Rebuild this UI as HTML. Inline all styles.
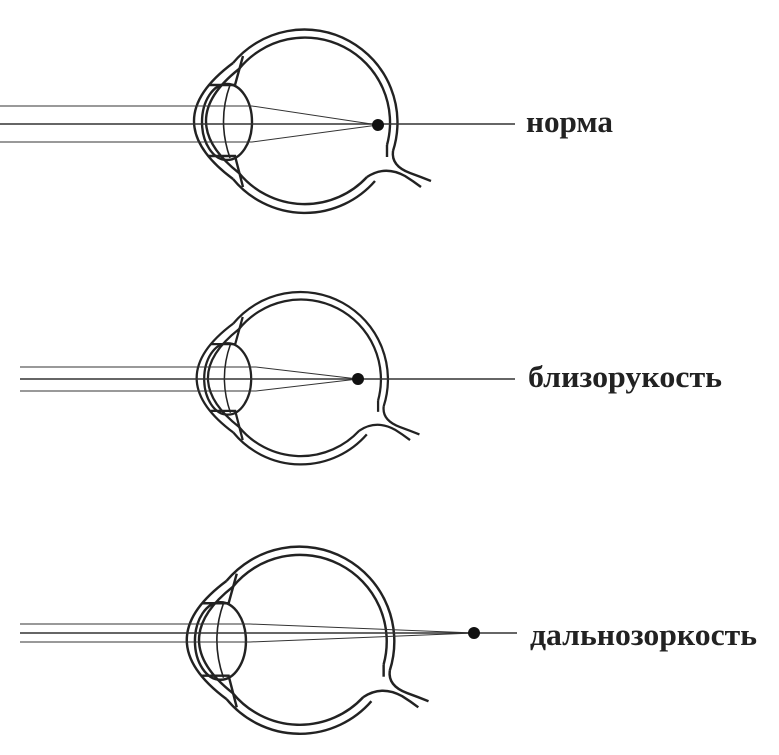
<!DOCTYPE html>
<html><head><meta charset="utf-8"><style>
html,body{margin:0;padding:0;background:#fff;}
svg{display:block}
text{font-family:"Liberation Serif",serif;font-weight:bold;font-size:31px;fill:#222}
</style></head><body>
<svg width="779" height="755" viewBox="0 0 779 755" xmlns="http://www.w3.org/2000/svg">
<defs>
<g id="eye" fill="none" stroke="#222" stroke-width="2.4">
  <path d="M -72 -58 A 93 93 0 0 1 88 30"/>
  <path d="M 70 60 A 93 93 0 0 1 -72 58"/>
  <path d="M -66 -52 A 85 85 0 0 1 82 24"/>
  <path d="M 62 56 A 85 85 0 0 1 -66 52"/>
  <path d="M 88 30 Q 86 45 105 52 Q 116 56 126 60"/>
  <path d="M 62 56 Q 80 44 100 55 Q 108 60 116 66"/>
  <path d="M 82 24 L 82 36" />
  <path d="M -72 -58 Q -150 0 -72 58"/>
  <path d="M -66 -52 Q -132 0 -66 52"/>
  <ellipse cx="-78" cy="1" rx="25" ry="38"/>
  <path d="M -75 -36 Q -88 0 -75 37" stroke-width="1.6"/>
  <path d="M -96 -36 L -70 -36 L -62 -65"/>
  <path d="M -96 35 L -70 35 L -62 66"/>
</g>
</defs>
<use href="#eye" transform="translate(305,121)"/>
<use href="#eye" transform="translate(301,378) scale(0.94)"/>
<use href="#eye" transform="translate(300,640) scale(1.02)"/>
<g stroke="#333" stroke-width="1" fill="none">
  <line x1="0" y1="106" x2="252" y2="106"/><line x1="252" y1="106" x2="378" y2="125"/>
  <line x1="0" y1="142" x2="252" y2="142"/><line x1="252" y1="142" x2="378" y2="125"/>
  <line x1="0" y1="124" x2="515" y2="124" stroke-width="1.4"/>
  <line x1="20" y1="367" x2="256" y2="367"/><line x1="256" y1="367" x2="358" y2="379"/>
  <line x1="20" y1="391" x2="256" y2="391"/><line x1="256" y1="391" x2="358" y2="379"/>
  <line x1="20" y1="379" x2="515" y2="379" stroke-width="1.4"/>
  <line x1="20" y1="624" x2="250" y2="624"/><line x1="250" y1="624" x2="474" y2="633"/>
  <line x1="20" y1="642" x2="250" y2="642"/><line x1="250" y1="642" x2="474" y2="633"/>
  <line x1="20" y1="633" x2="517" y2="633" stroke-width="1.4"/>
</g>
<circle cx="378" cy="125" r="6" fill="#111"/>
<circle cx="358" cy="379" r="6" fill="#111"/>
<circle cx="474" cy="633" r="6" fill="#111"/>
<text x="526" y="132" textLength="87" lengthAdjust="spacingAndGlyphs">норма</text>
<text x="528" y="387" textLength="194" lengthAdjust="spacingAndGlyphs">близорукость</text>
<text x="530" y="645" textLength="227" lengthAdjust="spacingAndGlyphs">дальнозоркость</text>
</svg>
</body></html>
